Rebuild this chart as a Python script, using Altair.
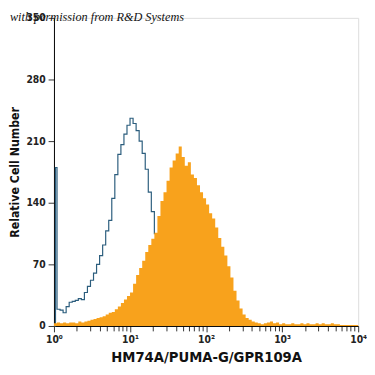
import altair as alt
import numpy as np
import pandas as pd

# log10 bin step (decades) for the histogram channels
STEP = 0.04

# isotype control (open, blue outline) counts per channel, channel 0 is the pile-up at the minimum
blue_counts = [180, 19, 18, 15, 22, 27, 28, 29, 31, 30, 38, 45, 52, 60, 70, 80, 92, 108,
               120, 145, 172, 195, 206, 218, 228, 236, 230, 222, 210, 196, 178, 152, 130,
               105, 82, 60, 42, 28, 18, 11, 7, 4, 3, 2, 1, 1, 0]

# HM74A/PUMA-G/GPR109A stained (filled orange) counts per channel
orange_counts = [3, 4, 3, 4, 3, 4, 4, 3, 5, 4, 5, 6, 7, 8, 9, 10, 11, 13, 15, 16,
                 19, 22, 26, 30, 34, 38, 48, 58, 66, 74, 84, 92, 99, 106, 125, 142, 152, 165, 180, 188,
                 196, 204, 192, 182, 186, 172, 168, 160, 152, 145, 138, 128, 122, 112, 100, 90, 80, 68, 55, 40,
                 29, 20, 13, 9, 7, 5, 4, 3, 2, 3, 4, 5, 3, 4, 2, 3, 2, 2, 3, 2,
                 2, 3, 2, 3, 2, 2, 3, 2, 3, 2, 2, 3, 2, 2, 1, 1, 1, 1, 1, 1]

y_ticks = [0, 70, 140, 210, 280, 350]
decades = [1, 10, 100, 1000, 10000]
decade_labels = ["10⁰", "10¹", "10²", "10³", "10⁴"]
x_title = "HM74A/PUMA-G/GPR109A"
y_title = "Relative Cell Number"
watermark = "with permission from R&D Systems"

# build tables
o_x = [10 ** (STEP * i) for i in range(len(orange_counts))] + [10 ** 4]
o_y = orange_counts + [orange_counts[-1]]
orange_df = pd.DataFrame({"x": o_x, "y": o_y})

b_x = [1.0, 10 ** (STEP / 2)] + [10 ** (STEP * i) for i in range(1, len(blue_counts))]
b_y = [0] + blue_counts
blue_df = pd.DataFrame({"x": b_x, "y": b_y})

minor = [m * d for d in decades[:-1] for m in range(1, 10)] + [10000]

label_expr = " : ".join(
    [f"datum.value == {d} ? '{l}'" for d, l in zip(decades, decade_labels)]
) + " : ''"

FONT = "DejaVu Sans Condensed, sans-serif"

x_enc = alt.X(
    "x:Q",
    scale=alt.Scale(type="log", domain=[1, 10000], nice=False),
    axis=alt.Axis(
        values=minor,
        labelExpr=label_expr,
        title=x_title,
        grid=False,
        tickSize={"condition": {"test": "indexof([1,10,100,1000,10000], datum.value) >= 0", "value": 6}, "value": 5},
        tickColor="#333333",
        domainColor="#000000",
        labelFont=FONT,
        labelFontSize=10.5,
        labelFontWeight="bold",
        labelColor="#222222",
        labelPadding=3,
        titleFont=FONT,
        titleFontSize=15,
        titleFontWeight="bold",
        titleColor="#111111",
        titlePadding=5,
        labelFlush=False,
    ),
)
y_enc = alt.Y(
    "y:Q",
    scale=alt.Scale(domain=[0, 350], nice=False),
    axis=alt.Axis(
        values=y_ticks,
        title=y_title,
        grid=False,
        tickSize=6,
        tickColor="#333333",
        domainColor="#000000",
        labelFont=FONT,
        labelFontSize=10.5,
        labelFontWeight="bold",
        labelColor="#222222",
        labelPadding=3,
        titleFont=FONT,
        titleFontSize=12.5,
        titleFontWeight="bold",
        titleColor="#111111",
        titlePadding=5,
    ),
)

blue = alt.Chart(blue_df).mark_line(
    interpolate="step-after", color="#2b5d7d", strokeWidth=1.2
).encode(x=x_enc, y=y_enc)

orange = alt.Chart(orange_df).mark_area(
    interpolate="step-after", color="#f8a21c", opacity=1
).encode(x=x_enc, y=y_enc)

wm = alt.Chart(pd.DataFrame({"t": [watermark]})).mark_text(
    align="left", baseline="alphabetic", font="Liberation Serif", fontStyle="italic",
    fontSize=12.5, color="#111111"
).encode(x=alt.value(-45), y=alt.value(3), text="t:N")

chart = alt.layer(blue, orange, wm).properties(
    width=311, height=315,
    autosize=alt.AutoSizeParams(type="none"),
    padding={"left": 47, "top": 6, "right": 9, "bottom": 45},
).configure_view(stroke=None).configure(background="white")

chart.save("out.html", embed_options={"renderer": "svg", "actions": False})
